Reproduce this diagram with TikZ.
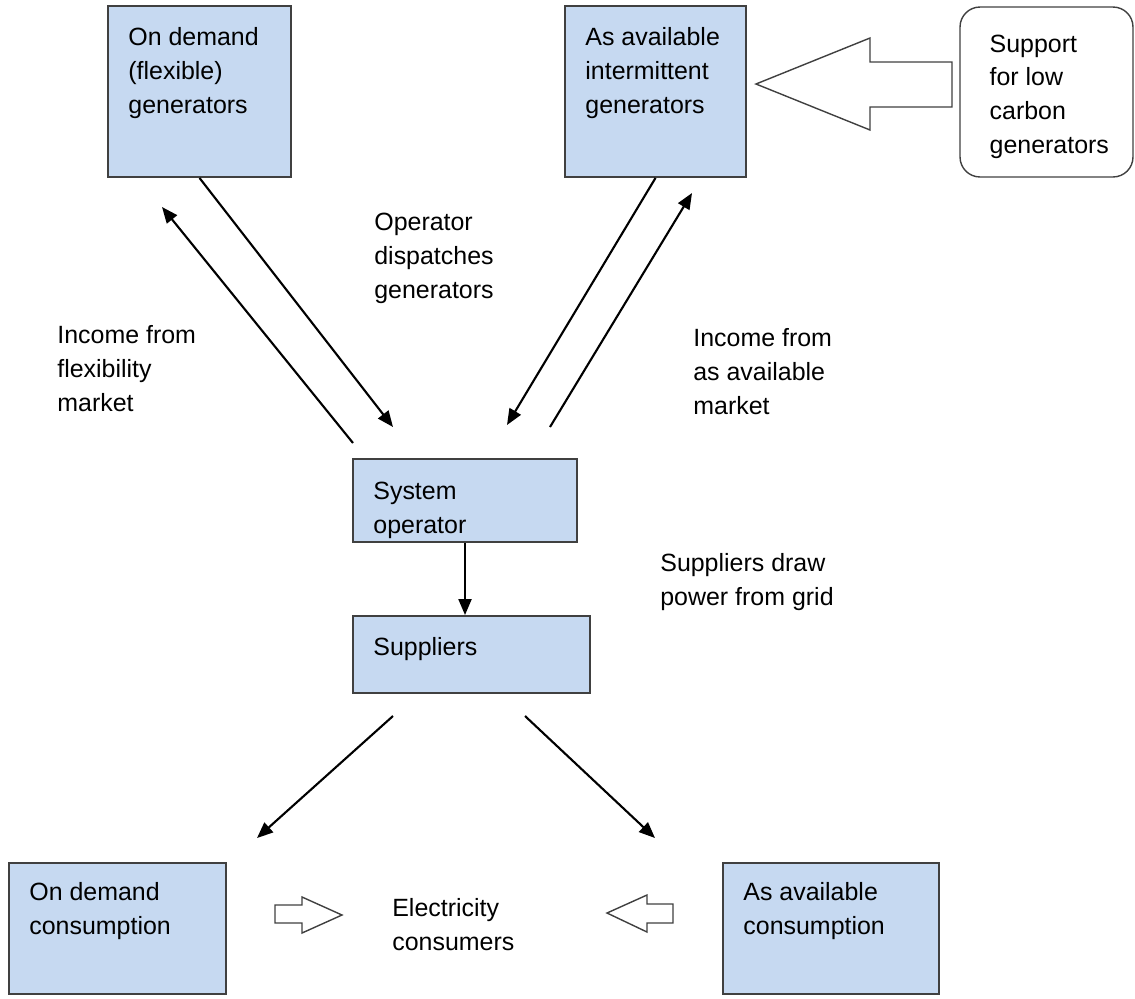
\documentclass[tikz,border=0pt]{standalone}
\usepackage{fontspec}
\setmainfont{Liberation Sans}
\usepackage{xcolor}
\usetikzlibrary{arrows.meta}
\definecolor{boxblue}{RGB}{198,217,241}
\definecolor{edgegray}{RGB}{64,64,64}

\tikzset{
  every node/.style={font=\fontsize{14.2}{19.3}\selectfont},
  box/.style={draw=edgegray, line width=1.1pt, fill=boxblue, inner sep=0pt},
  boxtext/.style={anchor=north west, inner sep=0pt, align=left, xshift=0.42cm, yshift=-0.44cm},
  note/.style={anchor=north west, inner sep=0pt, align=left},
  flow/.style={-{Triangle[length=0.32cm,width=0.26cm]}, line width=1.2pt},
  hollow/.style={draw=edgegray, fill=white, line width=0.8pt}
}

\begin{document}
\begin{tikzpicture}[x=0.02cm, y=-0.02cm]
            \useasboundingbox (0,0) rectangle (1135,998);

            % Generators
            \node[box, minimum width=3.66cm, minimum height=3.42cm,
                  label={[boxtext]north west:On demand\\(flexible)\\generators}] (flexgen) at (199.5,91.5) {};
            \node[box, minimum width=3.62cm, minimum height=3.42cm,
                  label={[boxtext]north west:As available\\intermittent\\generators}] (availgen) at (655.5,91.5) {};
            \node[draw=edgegray, line width=0.8pt, rounded corners=0.4cm, inner sep=0pt,
                  minimum width=3.46cm, minimum height=3.4cm,
                  label={[boxtext, xshift=0.18cm, yshift=-0.12cm]north west:Support\\for low\\carbon\\generators}] (support) at (1046.5,92) {};

            % Operator and suppliers
            \node[box, minimum width=4.48cm, minimum height=1.66cm,
                  label={[boxtext, yshift=-0.04cm]north west:System\\operator}] (sysop) at (465,500.5) {};
            \node[box, minimum width=4.74cm, minimum height=1.54cm,
                  label={[boxtext]north west:Suppliers}] (supp) at (471.5,654.5) {};

            % Consumers
            \node[box, minimum width=4.34cm, minimum height=2.62cm,
                  label={[boxtext, yshift=0.04cm]north west:On demand\\consumption}] (flexcons) at (117.5,928.5) {};
            \node[box, minimum width=4.32cm, minimum height=2.62cm,
                  label={[boxtext, yshift=0.04cm]north west:As available\\consumption}] (availcons) at (831,928.5) {};

            % Free labels
            \node[note] (dispatch) at (374,213) {Operator\\dispatches\\generators};
            \node[note] (flexincome) at (57,325) {Income from\\flexibility\\market};
            \node[note] (availincome) at (693,328) {Income from\\as available\\market};
            \node[note] (drawpower) at (660,553) {Suppliers draw\\power from grid};
            \node[note] (consumers) at (392,898) {Electricity\\consumers};

            % Arrow ends
            \coordinate (flexdown) at (393,427);
            \coordinate (flexupfrom) at (353,443);
            \coordinate (flexupto) at (162,207);
            \coordinate (availdown) at (507,425);
            \coordinate (availupfrom) at (550,427);
            \coordinate (availupto) at (692,193);
            \coordinate (suppleft) at (393,716);
            \coordinate (suppright) at (525,716);
            \coordinate (consleft) at (257,838);
            \coordinate (consright) at (655,838);

            % Arrows showing money and dispatch
            \draw[flow] (flexgen.south) -- (flexdown);
            \draw[flow] (flexupfrom) -- (flexupto);
            \draw[flow] (availgen.south) -- (availdown);
            \draw[flow] (availupfrom) -- (availupto);
            \draw[flow] (sysop.south) -- (sysop.south |- supp.north);
            \draw[flow] (suppleft) -- (consleft);
            \draw[flow] (suppright) -- (consright);

            % Hollow block arrows
            \draw[hollow] (952,62) -- (870,62) -- (870,38) -- (756,84) -- (870,130) -- (870,107) -- (952,107) -- cycle;
            \draw[hollow] (275,905) -- (302,905) -- (302,897) -- (342,915) -- (302,933) -- (302,923) -- (275,923) -- cycle;
            \draw[hollow] (673,904) -- (647,904) -- (647,895) -- (607,913) -- (647,932) -- (647,923) -- (673,923) -- cycle;
        \end{tikzpicture}
\end{document}
